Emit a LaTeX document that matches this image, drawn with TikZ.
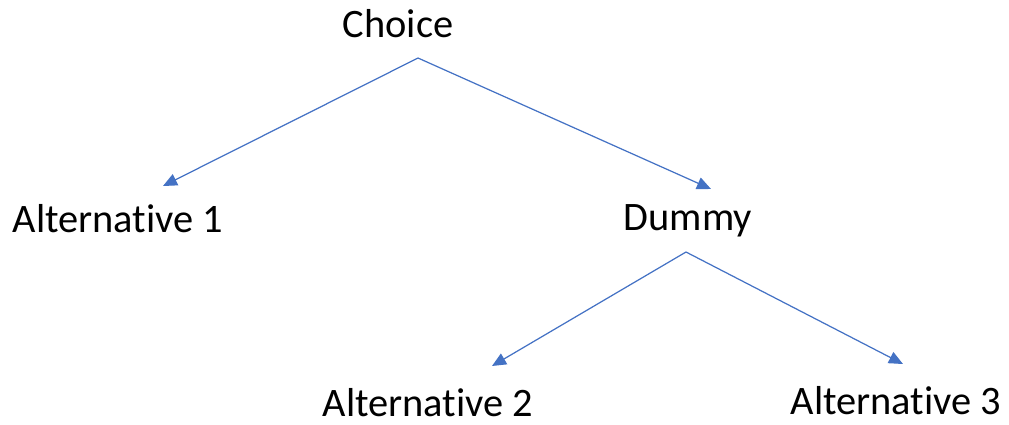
\documentclass[tikz,border=0pt]{standalone}
\usepackage{fontspec}
\setmainfont{Carlito}[Ligatures=NoCommon]
\usetikzlibrary{arrows.meta}
\definecolor{office}{RGB}{68,114,196}

\begin{document}
\begin{tikzpicture}[x=0.02cm,y=-0.02cm,
    word/.style={font=\fontsize{23}{27}\selectfont,inner sep=0pt,anchor=base},
    link/.style={draw=office,line width=0.7pt,-{Triangle[length=8pt,width=7pt]}}]
    \useasboundingbox (0,0) rectangle (1009,424);
    % choice tree
    \node[word] (choice) at (398,37) {Choice};
    \node[word] (alt1) at (118,232) {Alternative 1};
    \node[word] (dummy) at (688,230) {Dummy};
    \node[word] (alt2) at (428,416) {Alternative 2};
    \node[word] (alt3) at (896,414) {Alternative 3};
    % arrow ends
    \coordinate (choice-out) at ([shift={(20,21)}]choice.base);
    \coordinate (alt1-in) at ([shift={(45,-46)}]alt1.base);
    \coordinate (dummy-in) at ([shift={(23,-41)}]dummy.base);
    \coordinate (dummy-out) at ([shift={(-2,22)}]dummy.base);
    \coordinate (alt2-in) at ([shift={(64,-50)}]alt2.base);
    \coordinate (alt3-in) at ([shift={(7,-50)}]alt3.base);
    \draw[link] (choice-out) -- (alt1-in);
    \draw[link] (choice-out) -- (dummy-in);
    \draw[link] (dummy-out) -- (alt2-in);
    \draw[link] (dummy-out) -- (alt3-in);
\end{tikzpicture}
\end{document}
